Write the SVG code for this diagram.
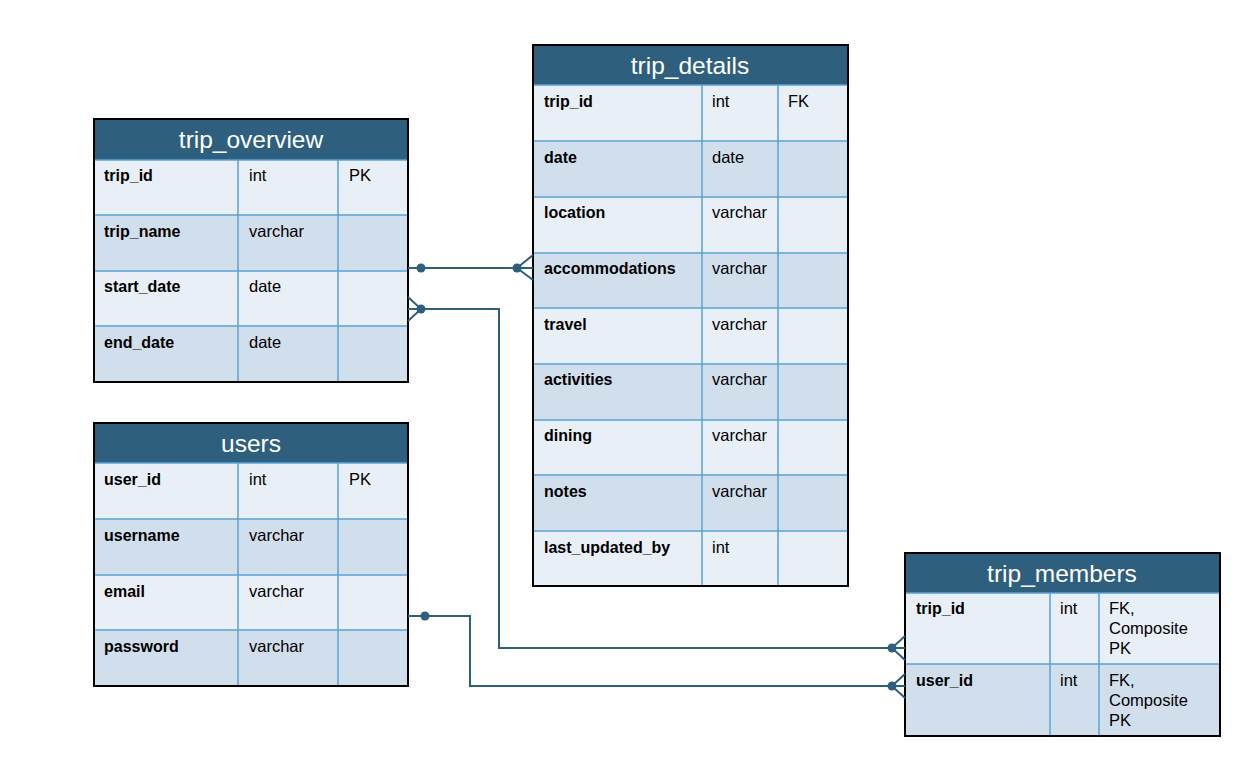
<svg xmlns="http://www.w3.org/2000/svg" width="1258" height="758" viewBox="0 0 1258 758">
<style>
.hdr{fill:#2e5f7f}
.r1{fill:#e8eff6}
.r2{fill:#d1dfed}
.grid{stroke:#5ba3d6;stroke-width:1.5;fill:none}
.frame{fill:none;stroke:#000;stroke-width:2}
.title{font-family:"Liberation Sans","Open Sans",sans-serif;font-size:24.5px;fill:#fff;text-anchor:middle}
.nm{font-family:"Liberation Sans",Arial,sans-serif;font-size:16px;font-weight:bold;fill:#000}
.tx{font-family:"Liberation Sans",Arial,sans-serif;font-size:16.5px;fill:#000}
.conn{stroke:#2e5f7f;stroke-width:2;fill:none}
.dot{fill:#2e5f7f}
</style>
<rect width="1258" height="758" fill="#fff"/>

<g id="trip_overview">
<rect class="hdr" x="94" y="119" width="314" height="41"/>
<rect class="r1" x="94" y="160" width="314" height="55"/>
<rect class="r2" x="94" y="215" width="314" height="56"/>
<rect class="r1" x="94" y="271" width="314" height="55"/>
<rect class="r2" x="94" y="326" width="314" height="56"/>
<path class="grid" d="M94 160H408M94 215H408M94 271H408M94 326H408M238 160V382M338 160V382"/>
<rect class="frame" x="94" y="119" width="314" height="263"/>
<text class="title" x="251" y="148">trip_overview</text>
<text class="nm" x="104" y="181">trip_id</text><text class="tx" x="249" y="181">int</text><text class="tx" x="349" y="181">PK</text>
<text class="nm" x="104" y="237">trip_name</text><text class="tx" x="249" y="237">varchar</text>
<text class="nm" x="104" y="292">start_date</text><text class="tx" x="249" y="292">date</text>
<text class="nm" x="104" y="348">end_date</text><text class="tx" x="249" y="348">date</text>
</g>

<g id="users">
<rect class="hdr" x="94" y="423" width="314" height="40"/>
<rect class="r1" x="94" y="463" width="314" height="56"/>
<rect class="r2" x="94" y="519" width="314" height="56"/>
<rect class="r1" x="94" y="575" width="314" height="55"/>
<rect class="r2" x="94" y="630" width="314" height="56"/>
<path class="grid" d="M94 463H408M94 519H408M94 575H408M94 630H408M238 463V686M338 463V686"/>
<rect class="frame" x="94" y="423" width="314" height="263"/>
<text class="title" x="251" y="452">users</text>
<text class="nm" x="104" y="485">user_id</text><text class="tx" x="249" y="485">int</text><text class="tx" x="349" y="485">PK</text>
<text class="nm" x="104" y="541">username</text><text class="tx" x="249" y="541">varchar</text>
<text class="nm" x="104" y="597">email</text><text class="tx" x="249" y="597">varchar</text>
<text class="nm" x="104" y="652">password</text><text class="tx" x="249" y="652">varchar</text>
</g>

<g id="trip_details">
<rect class="hdr" x="533" y="45" width="315" height="40"/>
<rect class="r1" x="533" y="85" width="315" height="56"/>
<rect class="r2" x="533" y="141" width="315" height="56"/>
<rect class="r1" x="533" y="197" width="315" height="56"/>
<rect class="r2" x="533" y="253" width="315" height="55"/>
<rect class="r1" x="533" y="308" width="315" height="56"/>
<rect class="r2" x="533" y="364" width="315" height="56"/>
<rect class="r1" x="533" y="420" width="315" height="55"/>
<rect class="r2" x="533" y="475" width="315" height="56"/>
<rect class="r1" x="533" y="531" width="315" height="55"/>
<path class="grid" d="M533 85H848M533 141H848M533 197H848M533 253H848M533 308H848M533 364H848M533 420H848M533 475H848M533 531H848M702 85V586M778 85V586"/>
<rect class="frame" x="533" y="45" width="315" height="541"/>
<text class="title" x="690" y="74">trip_details</text>
<text class="nm" x="544" y="107">trip_id</text><text class="tx" x="712" y="107">int</text><text class="tx" x="788" y="107">FK</text>
<text class="nm" x="544" y="163">date</text><text class="tx" x="712" y="163">date</text>
<text class="nm" x="544" y="218">location</text><text class="tx" x="712" y="218">varchar</text>
<text class="nm" x="544" y="274">accommodations</text><text class="tx" x="712" y="274">varchar</text>
<text class="nm" x="544" y="330">travel</text><text class="tx" x="712" y="330">varchar</text>
<text class="nm" x="544" y="385">activities</text><text class="tx" x="712" y="385">varchar</text>
<text class="nm" x="544" y="441">dining</text><text class="tx" x="712" y="441">varchar</text>
<text class="nm" x="544" y="497">notes</text><text class="tx" x="712" y="497">varchar</text>
<text class="nm" x="544" y="553">last_updated_by</text><text class="tx" x="712" y="553">int</text>
</g>

<g id="trip_members">
<rect class="hdr" x="905" y="553" width="315" height="40"/>
<rect class="r1" x="905" y="593" width="315" height="71"/>
<rect class="r2" x="905" y="664" width="315" height="72"/>
<path class="grid" d="M905 593H1220M905 664H1220M1050 593V736M1099 593V736"/>
<rect class="frame" x="905" y="553" width="315" height="183"/>
<text class="title" x="1062" y="582">trip_members</text>
<text class="nm" x="916" y="614">trip_id</text><text class="tx" x="1060" y="614">int</text>
<text class="tx" x="1109" y="614">FK,</text><text class="tx" x="1109" y="634">Composite</text><text class="tx" x="1109" y="654">PK</text>
<text class="nm" x="916" y="686">user_id</text><text class="tx" x="1060" y="686">int</text>
<text class="tx" x="1109" y="686">FK,</text><text class="tx" x="1109" y="706">Composite</text><text class="tx" x="1109" y="726">PK</text>
</g>

<g id="connectors">
<path class="conn" d="M408 268H533"/>
<circle class="dot" cx="421" cy="268" r="4.5"/>
<circle class="dot" cx="517" cy="268" r="4.5"/>
<path class="conn" d="M533 255L517 268L533 280"/>

<path class="conn" d="M408 309H499V648H905"/>
<circle class="dot" cx="421" cy="309" r="4.5"/>
<path class="conn" d="M408 297L421 309L408 321"/>
<circle class="dot" cx="892" cy="648" r="4.5"/>
<path class="conn" d="M905 636L892 648L905 660"/>

<path class="conn" d="M408 616H470V686H905"/>
<circle class="dot" cx="425" cy="616" r="4.5"/>
<circle class="dot" cx="892" cy="686" r="4.5"/>
<path class="conn" d="M905 674L892 686L905 698"/>
</g>
</svg>
